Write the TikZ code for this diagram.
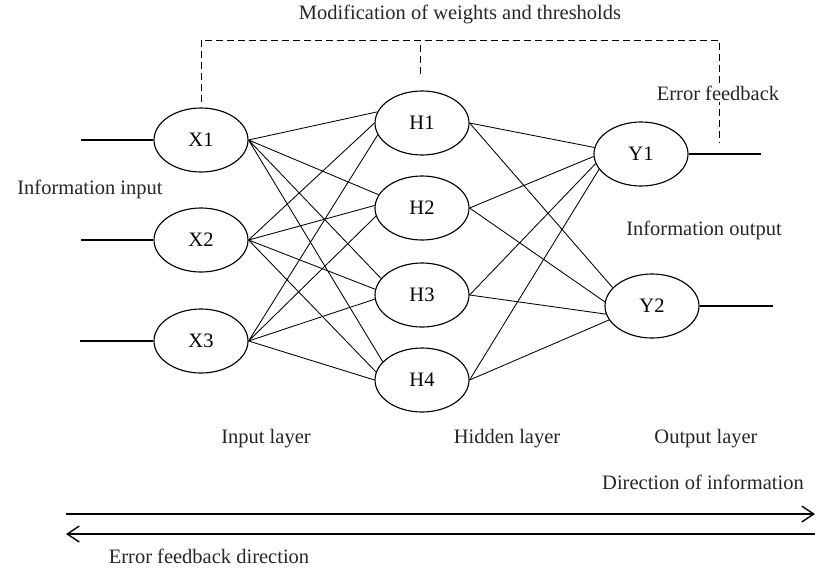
\documentclass[tikz,border=0pt]{standalone}
\usepackage{fontspec}
\setmainfont{Liberation Serif}
\usetikzlibrary{shapes,arrows,arrows.meta,positioning,calc}
\tikzset{
  neuron/.style={ellipse, draw=black, line width=0.04cm, minimum width=94pt, minimum height=64pt, inner sep=0pt},
  link/.style={draw, black, line width=0.03cm},
  feedback/.style={draw, black, line width=0.035cm, dash pattern=on 7pt off 4pt},
  flow/.style={draw, black, line width=0.05cm, -{Straight Barb[length=12pt,width=16pt]}},
}

\begin{document}
\begin{tikzpicture}[x=1pt,y=-1pt,
            every node/.style={font=\fontsize{20.5}{24}\selectfont},
            caption/.style={text=black!85, inner sep=1pt}]
            \useasboundingbox (0,0) rectangle (816,574);

            \node[neuron] (X1) at (201,140) {X1};
            \node[neuron] (X2) at (201,240) {X2};
            \node[neuron] (X3) at (201,341) {X3};

            \node[neuron] (H1) at (422,123) {H1};
            \node[neuron] (H2) at (422,208) {H2};
            \node[neuron] (H3) at (422,295) {H3};
            \node[neuron] (H4) at (422,380) {H4};

            \node[neuron] (Y1) at (641,154) {Y1};
            \node[neuron] (Y2) at (652,306) {Y2};

            \coordinate (in1) at (81,140);
            \coordinate (in2) at (81,240);
            \coordinate (in3) at (80,341);
            \coordinate (out1) at (761,154);
            \coordinate (out2) at (773,306);

            \draw [link, line width=0.05cm] (in1) -- (X1.west);
            \draw [link, line width=0.05cm] (in2) -- (X2.west);
            \draw [link, line width=0.05cm] (in3) -- (X3.west);
            \draw [link, line width=0.05cm] (Y1.east) -- (out1);
            \draw [link, line width=0.05cm] (Y2.east) -- (out2);

            \draw [link] (X1.east) -- (H1.166) (X1.east) -- (H2.163) (X1.east) -- (H3.158) (X1.east) -- (H4.155);
            \draw [link] (X2.east) -- (H1.180) (X2.east) -- (H2.177) (X2.east) -- (H3.173) (X2.east) -- (H4.170);
            \draw [link] (X3.east) -- (H1.195) (X3.east) -- (H2.190) (X3.east) -- (H3.185) (X3.east) -- (H4.180);
            \draw [link] (H1.east) -- (Y1.172) (H2.east) -- (Y1.183) (H3.east) -- (Y1.192) (H4.east) -- (Y1.200);
            \draw [link] (H1.east) -- (Y2.155) (H2.east) -- (Y2.175) (H3.east) -- (Y2.190) (H4.east) -- (Y2.198);

            \coordinate (fbtop) at (719,40);
            \coordinate (fbend) at (719,142);
            \coordinate (fbmid) at (420,74);
            \draw [feedback] ([yshift=5pt]X1.north) |- (fbtop) -- (fbend);
            \draw [feedback] (fbmid) -- (fbmid |- fbtop);

            \node[caption] (modif) at (460,14) {Modification of weights and thresholds};
            \node[caption, fill=white, inner sep=2pt] (errfb) at (718,93) {Error feedback};
            \node[caption] (ininfo) at (90,189) {Information input};
            \node[caption] (outinfo) at (704,230) {Information output};

            \node[caption] (inlayer) at (266,439) {Input layer};
            \node[caption] (hidlayer) at (507,439) {Hidden layer};
            \node[caption] (outlayer) at (706,439) {Output layer};
            \node[caption] (dirinfo) at (703,482) {Direction of information};
            \node[caption] (errdir) at (209,556) {Error feedback direction};

            \coordinate (fwdL) at (66,514);
            \coordinate (fwdR) at (815,514);
            \coordinate (bwdR) at (815,534);
            \coordinate (bwdL) at (66,534);
            \draw [flow] (fwdL) -- (fwdR);
            \draw [flow] (bwdR) -- (bwdL);
\end{tikzpicture}
\end{document}
